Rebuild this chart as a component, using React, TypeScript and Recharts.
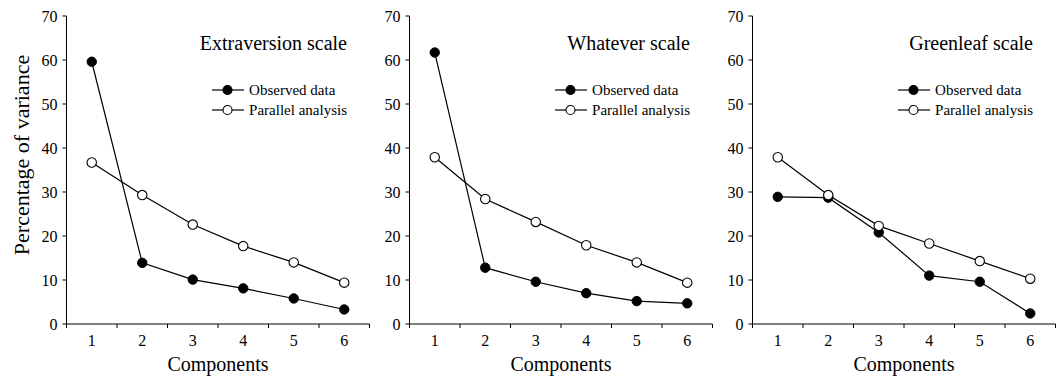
import React from 'react';
import { LineChart, Line, XAxis, YAxis, Legend, Label } from 'recharts';

const components = [1, 2, 3, 4, 5, 6];
const yTicks = [0, 10, 20, 30, 40, 50, 60, 70];
const seriesNames = ['Observed data', 'Parallel analysis'];
const panelTitles = ['Extraversion scale', 'Whatever scale', 'Greenleaf scale'];

const extraversionObserved = [59.6, 13.9, 10.1, 8.1, 5.8, 3.3];
const extraversionParallel = [36.7, 29.3, 22.6, 17.7, 14.0, 9.4];
const whateverObserved = [61.7, 12.8, 9.6, 7.0, 5.2, 4.7];
const whateverParallel = [37.9, 28.4, 23.2, 17.9, 14.0, 9.4];
const greenleafObserved = [28.9, 28.7, 20.8, 11.0, 9.6, 2.4];
const greenleafParallel = [37.9, 29.3, 22.3, 18.3, 14.3, 10.3];

const FONT = '"Liberation Serif", "Times New Roman", serif';
const MARGIN_TOP = 16;
const X_AXIS_H = 53;
const CHART_H = 377;
const PLOT_H = CHART_H - MARGIN_TOP - X_AXIS_H;

const panels = [
  { title: panelTitles[0], observed: extraversionObserved, parallel: extraversionParallel },
  { title: panelTitles[1], observed: whateverObserved, parallel: whateverParallel },
  { title: panelTitles[2], observed: greenleafObserved, parallel: greenleafParallel },
];

const xTickValues = components.flatMap((c) => [c - 0.5, c]).concat([components[components.length - 1] + 0.5]);

const XTick = (props: any) => {
  const { x, y, payload } = props;
  const v = payload.value;
  if (Number.isInteger(v)) {
    return (
      <text x={x} y={y + 22} textAnchor="middle" fontSize={16} fontFamily={FONT} fill="#000">
        {v}
      </text>
    );
  }
  return <line x1={x} y1={y} x2={x} y2={y + 4} stroke="#000" strokeWidth={1} />;
};

const Marker = ({ filled }: { filled: boolean }) => (
  <svg width={32} height={12} style={{ display: 'block' }}>
    <line x1={0} y1={6} x2={32} y2={6} stroke="#000" strokeWidth={1.2} />
    <circle cx={15.5} cy={6} r={4.5} fill={filled ? '#000' : '#fff'} stroke="#000" strokeWidth={1.1} />
  </svg>
);

const makeLegend = (title: string) => (props: any) => {
  const payload = props.payload || [];
  return (
    <div style={{ fontFamily: FONT, color: '#000', display: 'flex', flexDirection: 'column', alignItems: 'flex-end' }}>
      <div style={{ fontSize: 20, lineHeight: '20px', whiteSpace: 'nowrap' }}>{title}</div>
      <div style={{ marginTop: 27 }}>
        {payload.map((p: any, i: number) => (
          <div key={i} style={{ display: 'flex', alignItems: 'center', height: 20, fontSize: 15, lineHeight: '20px', whiteSpace: 'nowrap' }}>
            <Marker filled={i === 0} />
            <span style={{ marginLeft: 5 }}>{p.value}</span>
          </div>
        ))}
      </div>
    </div>
  );
};

const YLabel = () => {
  const cx = 29;
  const cy = MARGIN_TOP + PLOT_H / 2 - 15;
  return (
    <text x={cx} y={cy} transform={`rotate(-90, ${cx}, ${cy})`} textAnchor="middle" fontSize={22} fontFamily={FONT} fill="#000">
      Percentage of variance
    </text>
  );
};

const Panel = ({ index }: { index: number }) => {
  const p = panels[index];
  const data = components.map((c, i) => ({ comp: c, observed: p.observed[i], parallel: p.parallel[i] }));
  return (
    <div style={{ position: 'absolute', left: 343 * index, top: 0 }}>
      <LineChart width={375} height={CHART_H} data={data} margin={{ top: MARGIN_TOP, right: 5.5, bottom: 0, left: 0 }}>
        <XAxis
          dataKey="comp"
          type="number"
          domain={[0.5, 6.5]}
          ticks={xTickValues}
          interval={0}
          tick={<XTick />}
          tickLine={false}
          tickSize={0}
          tickMargin={0}
          axisLine={{ stroke: '#000', strokeWidth: 1 }}
          height={X_AXIS_H}
        >
          <Label value="Components" position="insideBottom" offset={6} fontSize={20} fontFamily={FONT} fill="#000" />
        </XAxis>
        <YAxis
          domain={[0, 70]}
          ticks={yTicks}
          interval={0}
          width={66.5}
          tickSize={4}
          tickMargin={5}
          axisLine={{ stroke: '#000', strokeWidth: 1 }}
          tickLine={{ stroke: '#000', strokeWidth: 1 }}
          tick={{ fontSize: 16, fontFamily: FONT, fill: '#000' }}
        >
          {index === 0 ? <Label content={<YLabel />} /> : null}
        </YAxis>
        <Legend
          layout="vertical"
          align="center"
          verticalAlign="middle"
          content={makeLegend(p.title)}
          wrapperStyle={{ top: 33, right: 28, left: 'auto', bottom: 'auto', width: 'auto', height: 'auto' }}
        />
        <Line
          dataKey="observed"
          name={seriesNames[0]}
          stroke="#000"
          strokeWidth={1.2}
          dot={{ r: 4.7, fill: '#000', stroke: '#000', strokeWidth: 1 }}
          activeDot={false}
          isAnimationActive={false}
        />
        <Line
          dataKey="parallel"
          name={seriesNames[1]}
          stroke="#000"
          strokeWidth={1.2}
          dot={{ r: 4.7, fill: '#fff', stroke: '#000', strokeWidth: 1.1 }}
          activeDot={false}
          isAnimationActive={false}
        />
      </LineChart>
    </div>
  );
}

export default function App() {
  return (
    <div style={{ position: 'absolute', left: 0, top: 0, width: 1063, height: 377, overflow: 'hidden', background: '#fff' }}>
      <Panel index={0} />
      <Panel index={1} />
      <Panel index={2} />
    </div>
  );
}
